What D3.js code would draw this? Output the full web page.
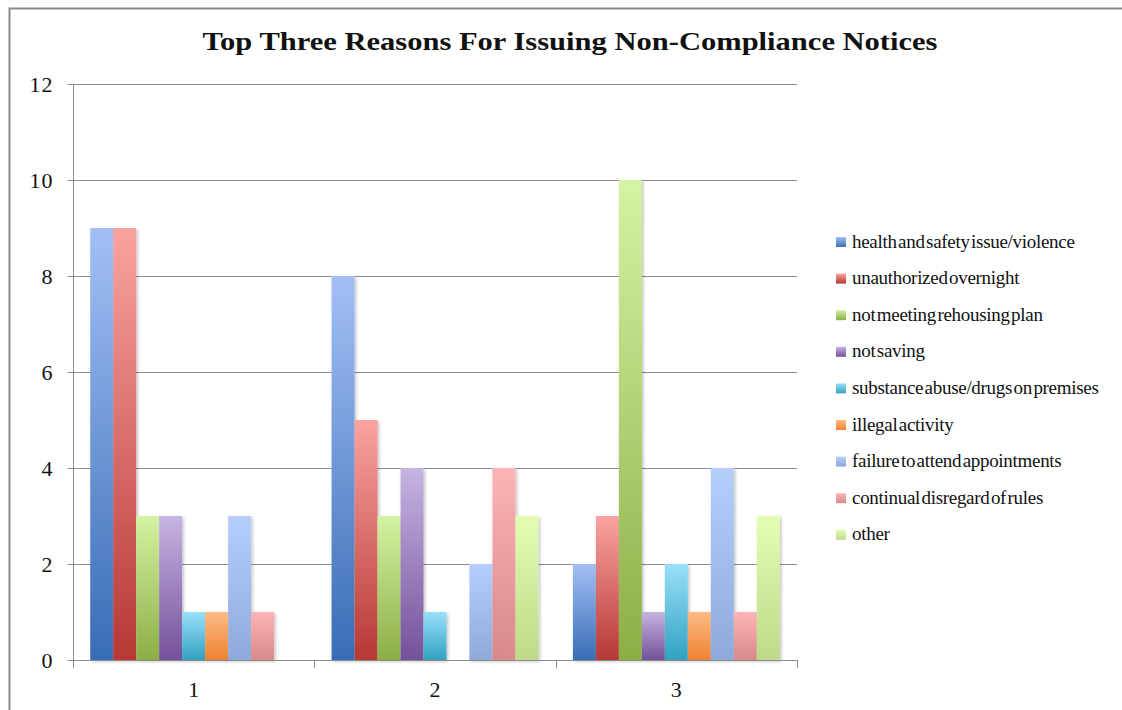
<!DOCTYPE html>
<html>
<head>
<meta charset="utf-8">
<script src="https://cdn.jsdelivr.net/npm/d3@7/dist/d3.min.js"></script>
<style>
  html, body { margin: 0; padding: 0; background: #fff; }
  svg { display: block; }
</style>
</head>
<body>
<svg id="chart" width="1122" height="710"></svg>
<script>
// ---- data ----
const title = "Top Three Reasons For Issuing Non-Compliance Notices";
const categories = ["1", "2", "3"];
const seriesNames = [
  "health and safety issue/violence",
  "unauthorized overnight",
  "not meeting rehousing plan",
  "not saving",
  "substance abuse/drugs on premises",
  "illegal activity",
  "failure to attend appointments",
  "continual disregard of rules",
  "other"
];
const healthSafety   = [9, 8, 2];
const unauthorized   = [9, 5, 3];
const rehousingPlan  = [3, 3, 10];
const notSaving      = [3, 4, 1];
const substanceAbuse = [1, 1, 2];
const illegalActivity= [1, 0, 1];
const failureAttend  = [3, 2, 4];
const disregardRules = [1, 4, 1];
const other          = [0, 3, 3];
const seriesValues = [healthSafety, unauthorized, rehousingPlan, notSaving,
  substanceAbuse, illegalActivity, failureAttend, disregardRules, other];
const yTicks = [0, 2, 4, 6, 8, 10, 12];

// gradient colours (top, bottom) per series
const gradTop = ["#a3bff5", "#f9a3a1", "#d4f3a3", "#c6b4e2", "#9ae0fa", "#fdbb86", "#b5cefc", "#fcb4b4", "#e3fdb2"];
const gradBot = ["#386db6", "#b73835", "#8cae45", "#74519a", "#31a2c2", "#ee8230", "#8ea9db", "#d98989", "#bfd98a"];

// ---- layout ----
const svg = d3.select("#chart");
const X0 = 73, X1 = 797, Y0 = 660, Y1 = 84;
const serif = "'Liberation Serif', 'DejaVu Serif', serif";

const defs = svg.append("defs");
seriesNames.forEach((s, i) => {
  const g = defs.append("linearGradient").attr("id", "g" + i)
    .attr("x1", 0).attr("y1", 0).attr("x2", 0).attr("y2", 1);
  g.append("stop").attr("offset", "0%").attr("stop-color", gradTop[i]);
  g.append("stop").attr("offset", "100%").attr("stop-color", gradBot[i]);
});
const f = defs.append("filter").attr("id", "sh").attr("x", "-20%").attr("y", "-5%").attr("width", "150%").attr("height", "115%");
f.append("feDropShadow").attr("dx", 1.5).attr("dy", 1.5).attr("stdDeviation", 1.5)
  .attr("flood-color", "#000").attr("flood-opacity", 0.25);

// frame
svg.append("path")
  .attr("d", "M9.5,720 L9.5,8.5 L1130,8.5")
  .attr("fill", "none").attr("stroke", "#8a8a8a").attr("stroke-width", 2);

// title
svg.append("text")
  .attr("x", 570).attr("y", 50)
  .attr("text-anchor", "middle")
  .attr("font-family", serif).attr("font-weight", "bold").attr("font-size", 25)
  .attr("textLength", 735).attr("lengthAdjust", "spacingAndGlyphs")
  .attr("fill", "#111")
  .text(title);

const x = d3.scaleBand().domain(categories).range([X0, X1]).paddingInner(0).paddingOuter(0);
const xs = d3.scaleBand().domain(d3.range(seriesNames.length)).range([0, x.bandwidth()])
  .paddingInner(0).paddingOuter(0.75);
const y = d3.scaleLinear().domain([0, 12]).range([Y0, Y1]);

// gridlines
svg.append("g").selectAll("line").data(yTicks.filter(d => d > 0)).join("line")
  .attr("x1", X0).attr("x2", X1)
  .attr("y1", d => Math.round(y(d)) + 0.5).attr("y2", d => Math.round(y(d)) + 0.5)
  .attr("stroke", "#8c8c8c").attr("stroke-width", 1);

// bars
const bars = svg.append("g").attr("filter", "url(#sh)");
categories.forEach((c, ci) => {
  seriesValues.forEach((vals, si) => {
    const v = vals[ci];
    if (v <= 0) return;
    bars.append("rect")
      .attr("x", x(c) + xs(si))
      .attr("y", y(v))
      .attr("width", xs.bandwidth())
      .attr("height", y(0) - y(v))
      .attr("fill", `url(#g${si})`);
  });
});

// y axis
const yAxis = d3.axisLeft(y).tickValues(yTicks).tickSize(6).tickPadding(14).tickFormat(d3.format("d"));
const ya = svg.append("g").attr("transform", `translate(${X0 + 0.5},0)`).call(yAxis);
ya.select(".domain").attr("stroke", "#8c8c8c").attr("d", `M-6,${Y1 + 0.5}H0V${Y0 + 0.5}H-6`);
ya.selectAll(".tick line").attr("stroke", "#8c8c8c");
ya.selectAll(".tick").attr("transform", d => `translate(0,${Math.round(y(d)) + 0.5})`);
ya.selectAll("text").attr("font-family", serif).attr("font-size", 22).attr("letter-spacing", 1).attr("fill", "#111");

// x axis baseline + category ticks
const xa = svg.append("g");
xa.append("line").attr("x1", X0).attr("x2", X1).attr("y1", Y0 + 0.5).attr("y2", Y0 + 0.5)
  .attr("stroke", "#8c8c8c");
const bounds = categories.map(c => x(c)).concat([X1]);
xa.selectAll("line.t").data(bounds).join("line").attr("class", "t")
  .attr("x1", d => Math.round(d) + 0.5).attr("x2", d => Math.round(d) + 0.5)
  .attr("y1", Y0).attr("y2", Y0 + 8).attr("stroke", "#8c8c8c");
xa.selectAll("text").data(categories).join("text")
  .attr("x", d => x(d) + x.bandwidth() / 2).attr("y", 697)
  .attr("text-anchor", "middle").attr("font-family", serif).attr("font-size", 22).attr("fill", "#111")
  .text(d => d);

// legend
const lg = svg.append("g");
seriesNames.forEach((s, i) => {
  const cy = 242 + i * 36.6;
  lg.append("rect").attr("x", 836).attr("y", cy - 5).attr("width", 10).attr("height", 10)
    .attr("fill", `url(#g${i})`);
  lg.append("text").attr("x", 852).attr("y", cy + 5.5)
    .attr("font-family", serif).attr("font-size", 19).attr("letter-spacing", -0.3)
    .attr("word-spacing", -3).attr("fill", "#111").text(s);
});
</script>
</body>
</html>
